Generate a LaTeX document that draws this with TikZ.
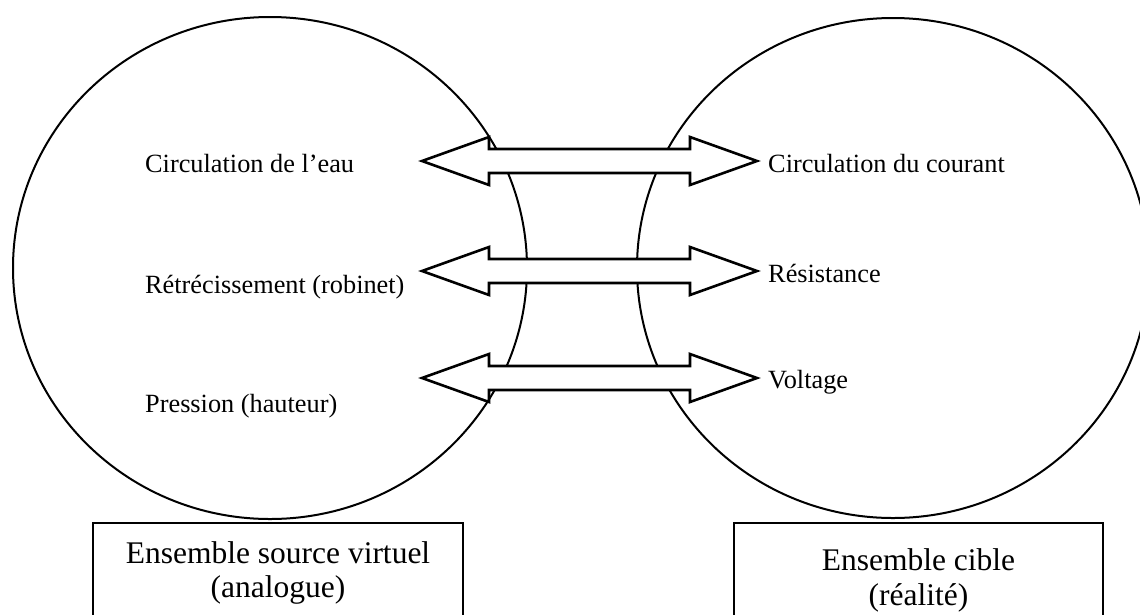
\documentclass[tikz,border=0pt]{standalone}
\usepackage{fontspec}
\setmainfont{Liberation Serif}
\usetikzlibrary{shapes.geometric,calc}

\tikzset{
  setshape/.style={ellipse, draw, line width=2pt, inner sep=0pt},
  blockarrow/.style={draw, fill=white, line width=2.6pt, line join=miter},
  label/.style={inner sep=0pt, anchor=base west, font=\fontsize{26.3}{30}\selectfont},
  framebox/.style={draw, line width=2.4pt, fill=white, inner sep=0pt},
  boxtext/.style={inner sep=0pt, anchor=base, font=\fontsize{31.5}{34}\selectfont}
}

% two-headed block arrow between two tip coordinates
\newcommand\twoway[2]{%
  \draw[blockarrow] (#1) -- ++(67,24) -- ++(0,-12)
    -- ($(#2)+(-67,12)$) -- ++(0,12) -- (#2) -- ++(-67,-24) -- ++(0,12)
    -- ($(#1)+(67,-12)$) -- ++(0,-12) -- cycle;}

\begin{document}
\begin{tikzpicture}[x=1pt,y=-1pt]
  \useasboundingbox (0,0) rectangle (1140,614);
  \fill[white] (0,0) rectangle (1140,614);
  \clip (0,0) rectangle (1140,614);

  % the two sets
  \node[setshape, minimum width=514pt, minimum height=502pt] (source) at (270,268) {};
  \node[setshape, minimum width=512pt, minimum height=500pt] (target) at (893,268) {};

  % arrow tips
  \coordinate (a1l) at (422,161); \coordinate (a1r) at (757,161);
  \coordinate (a2l) at (422,271); \coordinate (a2r) at (757,271);
  \coordinate (a3l) at (422,378); \coordinate (a3r) at (757,378);

  \twoway{a1l}{a1r}
  \twoway{a2l}{a2r}
  \twoway{a3l}{a3r}

  % source-side terms
  \node[label] (eau) at (145,172) {Circulation de l’eau};
  \node[label] (robinet) at (145,293) {Rétrécissement (robinet)};
  \node[label] (pression) at (145,412) {Pression (hauteur)};

  % target-side terms
  \node[label] (courant) at (768,172) {Circulation du courant};
  \node[label] (resistance) at (768,282) {Résistance};
  \node[label] (voltage) at (768,388) {Voltage};

  % captions
  \node[framebox, minimum width=370pt, minimum height=120pt, anchor=north] (srcbox) at (278,522) {};
  \node[boxtext] (srcname) at (278,563) {Ensemble source virtuel};
  \node[boxtext] (srcnote) at (278,597) {(analogue)};

  \node[framebox, minimum width=369pt, minimum height=120pt, anchor=north] (tgtbox) at (918.5,522) {};
  \node[boxtext] (tgtname) at (918.5,570) {Ensemble cible};
  \node[boxtext] (tgtnote) at (918.5,605) {(réalité)};
\end{tikzpicture}
\end{document}
